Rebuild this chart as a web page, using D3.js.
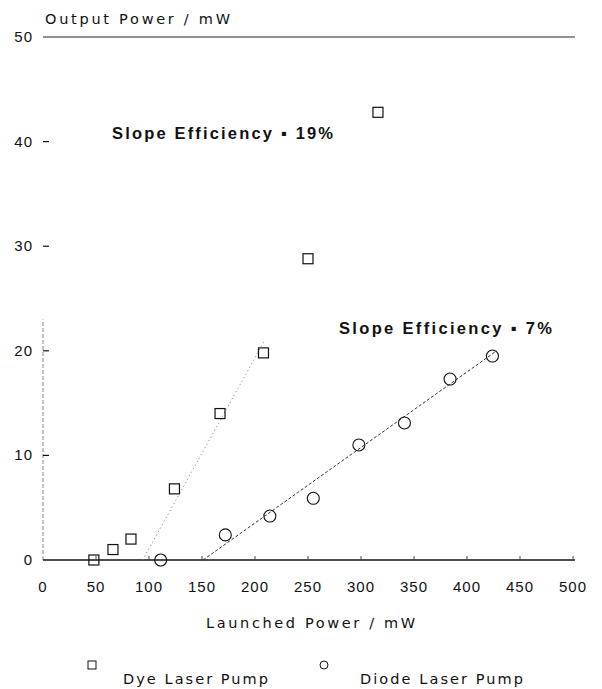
<!DOCTYPE html>
<html>
<head>
<meta charset="utf-8">
<script src="https://cdn.jsdelivr.net/npm/d3@7"></script>
<style>
  html, body { margin: 0; padding: 0; background: #fff; }
  svg { display: block; }
  .tick-label { font-family: 'Liberation Sans', Arial, sans-serif; font-size: 15px; fill: #111; }
  .title { font-family: 'DejaVu Sans', sans-serif; font-size: 14.5px; fill: #111; }
  .slope { font-family: 'Liberation Sans', Arial, sans-serif; font-size: 16.5px; font-weight: bold; fill: #111; }
</style>
</head>
<body>
<div id="chart"></div>
<script>
// values
const xTicks = [0, 50, 100, 150, 200, 250, 300, 350, 400, 450, 500];
const yTicks = [0, 10, 20, 30, 40, 50];

const dyePower = [48, 66, 83, 124, 167, 208, 250, 316];
const dyeOutput = [0, 1.0, 2.0, 6.8, 14.0, 19.8, 28.8, 42.8];

const diodePower = [111, 172, 214, 255, 298, 341, 384, 424];
const diodeOutput = [0, 2.4, 4.2, 5.9, 11.0, 13.1, 17.3, 19.5];

// fitted slope lines (threshold -> end point)
const dyeFit = [[94, 0], [208, 20.8]];
const diodeFit = [[151, 0], [428, 20]];

const seriesNames = ['Dye Laser Pump', 'Diode Laser Pump'];
const slopeLabels = ['Slope Efficiency \u25AA 19%', 'Slope Efficiency \u25AA 7%'];

const width = 602;
const height = 689;

const svg = d3.select('#chart').append('svg')
  .attr('width', width)
  .attr('height', height);

const x = d3.scaleLinear().domain([0, 500]).range([43, 573]);
const y = d3.scaleLinear().domain([0, 50]).range([560, 37]);

// y axis line - only the lower part shows in the original scan
svg.append('line')
  .attr('x1', x(0)).attr('x2', x(0))
  .attr('y1', y(0)).attr('y2', y(23))
  .attr('stroke', '#888')
  .attr('stroke-width', 1)
  .attr('stroke-dasharray', '4,2');

// top frame line at 50
svg.append('line')
  .attr('x1', x(0)).attr('x2', x(500) + 2)
  .attr('y1', y(50)).attr('y2', y(50))
  .attr('stroke', '#222')
  .attr('stroke-width', 1.2);

// x axis line
svg.append('line')
  .attr('x1', x(0)).attr('x2', x(500) + 2)
  .attr('y1', y(0)).attr('y2', y(0))
  .attr('stroke', '#111')
  .attr('stroke-width', 1.6);

// y ticks + labels
yTicks.forEach(t => {
  if (t > 0 && t < 50) {
    svg.append('line')
      .attr('x1', x(0)).attr('x2', x(0) + 6)
      .attr('y1', y(t)).attr('y2', y(t))
      .attr('stroke', '#111')
      .attr('stroke-width', 1.2);
  }
  svg.append('text')
    .attr('class', 'tick-label')
    .attr('x', 33)
    .attr('y', y(t) + 5)
    .attr('text-anchor', 'end')
    .attr('letter-spacing', '1px')
    .text(t);
});

// x ticks + labels
xTicks.forEach(t => {
  if (t > 0) {
    svg.append('line')
      .attr('x1', x(t)).attr('x2', x(t))
      .attr('y1', y(0)).attr('y2', y(0) - 4)
      .attr('stroke', '#444')
      .attr('stroke-width', 1);
  }
  svg.append('text')
    .attr('class', 'tick-label')
    .attr('x', x(t))
    .attr('y', 592)
    .attr('text-anchor', 'middle')
    .attr('letter-spacing', '1px')
    .text(t);
});

// axis titles
svg.append('text')
  .attr('class', 'title')
  .attr('x', 45)
  .attr('y', 24)
  .attr('textLength', 185)
  .attr('lengthAdjust', 'spacing')
  .text('Output Power / mW');

svg.append('text')
  .attr('class', 'title')
  .attr('x', 206)
  .attr('y', 628)
  .attr('textLength', 209)
  .attr('lengthAdjust', 'spacing')
  .text('Launched Power / mW');

// fit lines
const line = d3.line().x(d => x(d[0])).y(d => y(d[1]));
svg.append('path')
  .datum(dyeFit)
  .attr('d', line)
  .attr('fill', 'none')
  .attr('stroke', '#777')
  .attr('stroke-width', 1)
  .attr('stroke-dasharray', '1,3');

svg.append('path')
  .datum(diodeFit)
  .attr('d', line)
  .attr('fill', 'none')
  .attr('stroke', '#333')
  .attr('stroke-width', 1)
  .attr('stroke-dasharray', '3,2');

// markers
const dyeData = dyePower.map((p, i) => ({ p, o: dyeOutput[i] }));
const diodeData = diodePower.map((p, i) => ({ p, o: diodeOutput[i] }));

svg.selectAll('.dye')
  .data(dyeData)
  .enter()
  .append('rect')
  .attr('class', 'dye')
  .attr('x', d => x(d.p) - 5)
  .attr('y', d => y(d.o) - 5)
  .attr('width', 10)
  .attr('height', 10)
  .attr('fill', 'none')
  .attr('stroke', '#111')
  .attr('stroke-width', 1.2);

svg.selectAll('.diode')
  .data(diodeData)
  .enter()
  .append('circle')
  .attr('class', 'diode')
  .attr('cx', d => x(d.p))
  .attr('cy', d => y(d.o))
  .attr('r', 6)
  .attr('fill', 'none')
  .attr('stroke', '#111')
  .attr('stroke-width', 1.1);

// slope annotations
svg.append('text')
  .attr('class', 'slope')
  .attr('x', 112)
  .attr('y', 139)
  .attr('textLength', 221)
  .attr('lengthAdjust', 'spacing')
  .text(slopeLabels[0]);

svg.append('text')
  .attr('class', 'slope')
  .attr('x', 339)
  .attr('y', 334)
  .attr('textLength', 213)
  .attr('lengthAdjust', 'spacing')
  .text(slopeLabels[1]);

// legend
const legend = svg.append('g');
legend.append('rect')
  .attr('x', 88).attr('y', 661)
  .attr('width', 8).attr('height', 8)
  .attr('fill', 'none')
  .attr('stroke', '#111')
  .attr('stroke-width', 1);
legend.append('text')
  .attr('class', 'title')
  .attr('x', 123)
  .attr('y', 684)
  .attr('textLength', 145)
  .attr('lengthAdjust', 'spacing')
  .text(seriesNames[0]);

legend.append('circle')
  .attr('cx', 324).attr('cy', 665)
  .attr('r', 4)
  .attr('fill', 'none')
  .attr('stroke', '#111')
  .attr('stroke-width', 1);
legend.append('text')
  .attr('class', 'title')
  .attr('x', 360)
  .attr('y', 684)
  .attr('textLength', 163)
  .attr('lengthAdjust', 'spacing')
  .text(seriesNames[1]);
</script>
</body>
</html>
